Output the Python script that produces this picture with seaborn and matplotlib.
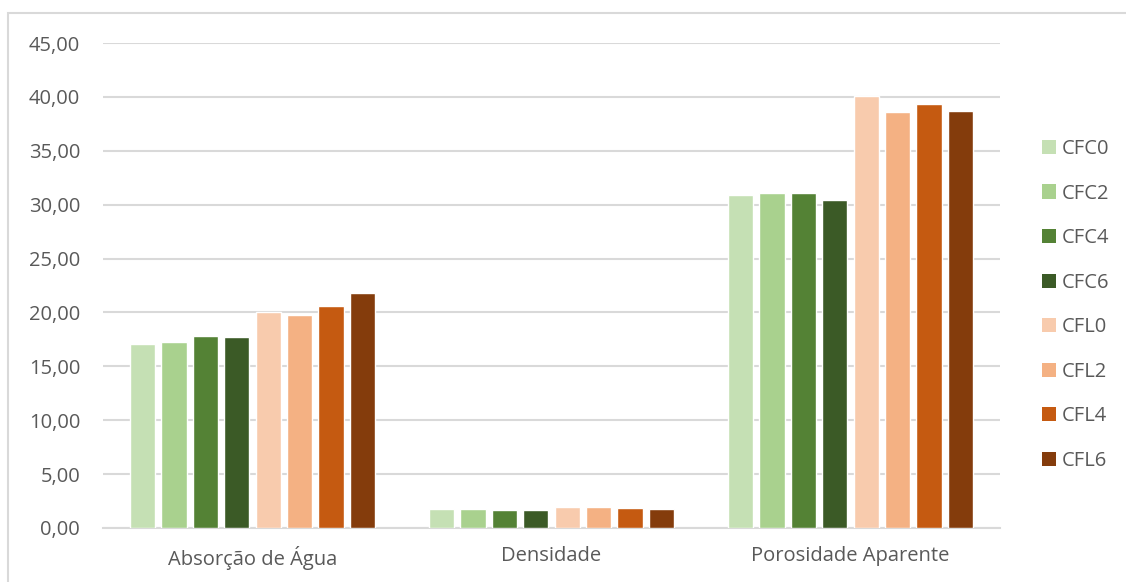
import matplotlib
matplotlib.use("Agg")
import matplotlib.pyplot as plt
import matplotlib.patches as mpatches
import seaborn as sns
import pandas as pd

# Ensaios físicos por traço
categories = ["Absorção de Água", "Densidade", "Porosidade Aparente"]
series = ["CFC0", "CFC2", "CFC4", "CFC6", "CFL0", "CFL2", "CFL4", "CFL6"]
absorcao = [17.07, 17.28, 17.81, 17.75, 20.04, 19.79, 20.59, 21.77]
densidade = [1.76, 1.73, 1.67, 1.67, 1.95, 1.92, 1.86, 1.76]
porosidade = [30.86, 31.05, 31.05, 30.43, 40.10, 38.59, 39.33, 38.68]
colors = ["#C5E0B4", "#A9D18E", "#548235", "#3B5A26",
          "#F8CBAD", "#F4B183", "#C55A11", "#843C0C"]
yticks = [0, 5, 10, 15, 20, 25, 30, 35, 40, 45]

rows = []
for cat, vals in zip(categories, [absorcao, densidade, porosidade]):
    for s, v in zip(series, vals):
        rows.append({"ensaio": cat, "traco": s, "valor": v})
df = pd.DataFrame(rows)

sns.set_theme(style="white")
plt.rcParams["font.family"] = ["Open Sans", "DejaVu Sans"]
text_color = "#595959"
grid_color = "#D9D9D9"
fs = 14.5

fig = plt.figure(figsize=(11.26, 5.82), dpi=100)
ax = fig.add_axes([103 / 1126, 1 - 528 / 582, (1000 - 103) / 1126, (528 - 43) / 582])

sns.barplot(data=df, x="ensaio", y="valor", hue="traco", hue_order=series,
            order=categories, palette=colors, width=0.84, gap=0.2,
            saturation=1, legend=False, ax=ax, zorder=3)

ax.set_ylim(0, 45)
ax.set_xlim(-0.5, 2.5)
ax.set_yticks(yticks)
ax.set_yticklabels([f"{t:.2f}".replace(".", ",") for t in yticks])
ax.set_xlabel("")
ax.set_ylabel("")
ax.yaxis.grid(True, color=grid_color, linewidth=1.5, zorder=0)
ax.set_axisbelow(True)
for side in ["top", "right", "left"]:
    ax.spines[side].set_visible(False)
ax.spines["bottom"].set_color(grid_color)
ax.spines["bottom"].set_linewidth(1.5)
ax.tick_params(axis="both", length=0, colors=text_color, labelsize=fs)
ax.tick_params(axis="y", pad=16.5)
ax.tick_params(axis="x", pad=13)

handles = [mpatches.Patch(facecolor=c, edgecolor="none", label=s)
           for c, s in zip(colors, series)]
fig.legend(handles=handles, loc="center left",
           bbox_to_anchor=(1042 / 1126, 1 - 305 / 582), frameon=False,
           fontsize=fs, labelcolor=text_color, handlelength=0.7,
           handleheight=0.7, handletextpad=0.3, labelspacing=1.22,
           borderaxespad=0, borderpad=0)

# Moldura da área do gráfico
fig.patches.append(mpatches.Rectangle((8 / 1126, -0.1), 1.2, 1 - 13 / 582 + 0.1,
                                      transform=fig.transFigure, fill=False,
                                      edgecolor=grid_color, linewidth=1.5))

fig.savefig("out.png", dpi=100, facecolor="white")
